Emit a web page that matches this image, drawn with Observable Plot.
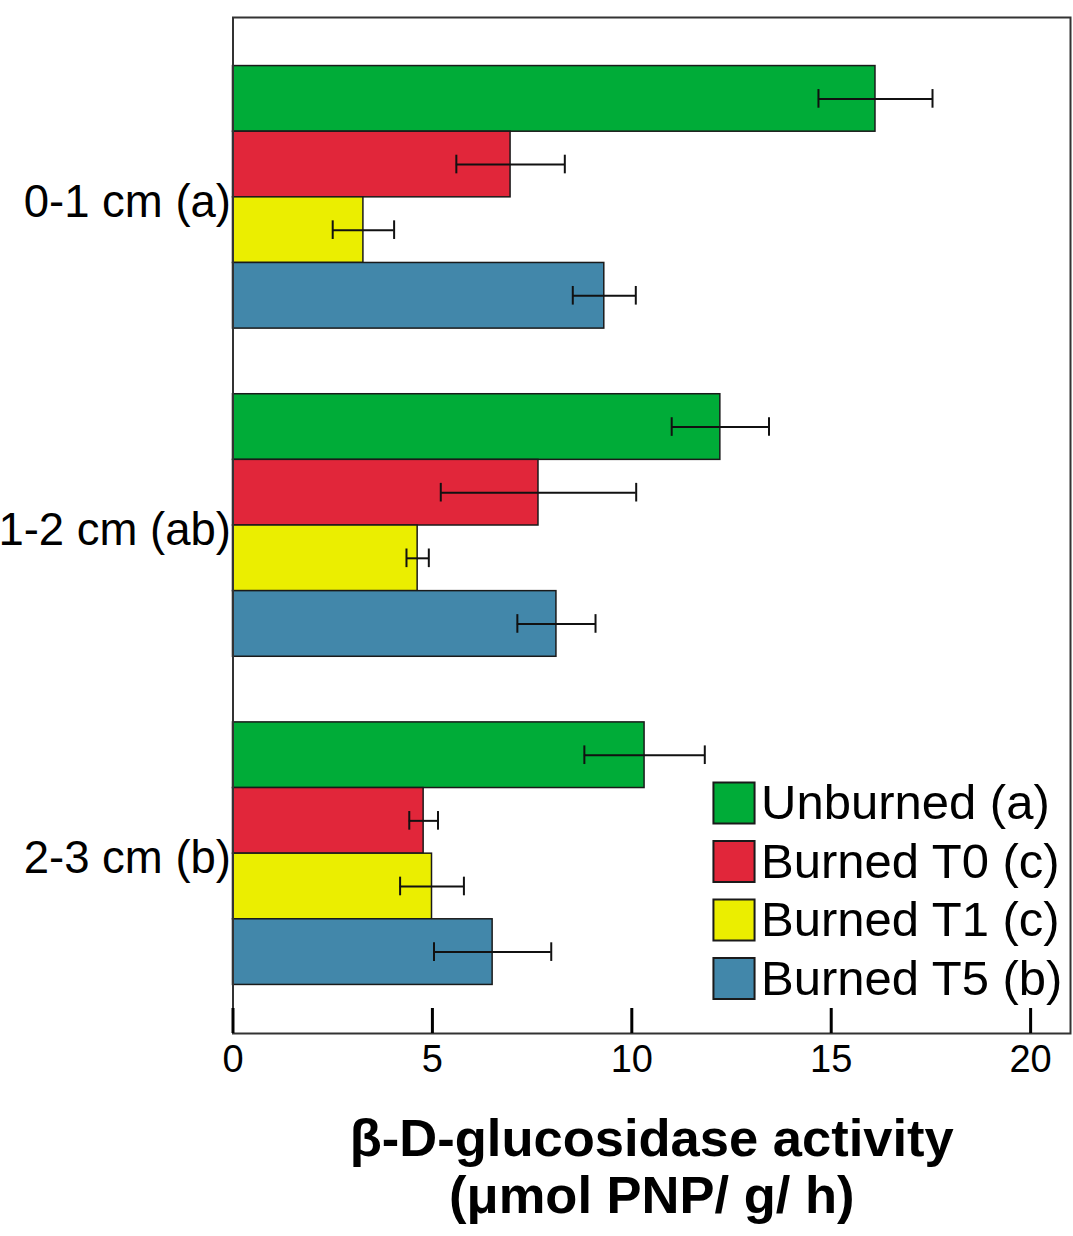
<!DOCTYPE html>
<html>
<head>
<meta charset="utf-8">
<script src="https://cdn.jsdelivr.net/npm/d3@7"></script>
<script src="https://cdn.jsdelivr.net/npm/@observablehq/plot@0.6"></script>
<style>
  html, body { margin: 0; padding: 0; background: #fff; }
</style>
</head>
<body>
<div id="chart"></div>
<script>
// Soil depth layers (with significance letters) and fire treatments
const groups = ["0-1 cm (a)", "1-2 cm (ab)", "2-3 cm (b)"];
const series = ["Unburned", "Burned T0", "Burned T1", "Burned T5"];
const seriesLetters = ["a", "c", "c", "b"];
const colors = ["#00ac38", "#e1263a", "#ebee00", "#4287aa"];

// β-D-glucosidase activity (µmol PNP / g / h), one value per depth layer
const unburned = [16.11, 12.22, 10.32];
const burnedT0 = [6.96, 7.66, 4.78];
const burnedT1 = [3.27, 4.63, 4.99];
const burnedT5 = [9.31, 8.11, 6.51];

// Standard errors, same order
const unburnedErr = [1.43, 1.22, 1.51];
const burnedT0Err = [1.36, 2.45, 0.36];
const burnedT1Err = [0.77, 0.28, 0.80];
const burnedT5Err = [0.79, 0.98, 1.47];

const xTicks = [0, 5, 10, 15, 20];
const xTitle = "β-D-glucosidase activity\n(μmol PNP/ g/ h)";

const means = [unburned, burnedT0, burnedT1, burnedT5];
const errs = [unburnedErr, burnedT0Err, burnedT1Err, burnedT5Err];

const slot = (g, s) => `${g} | ${s}`;
const rows = groups.flatMap((g, gi) =>
  series.map((s, si) => ({
    group: g,
    series: s,
    key: slot(g, s),
    value: means[si][gi],
    lo: means[si][gi] - errs[si][gi],
    hi: means[si][gi] + errs[si][gi]
  }))
);

// One band per bar, with an empty band separating depth layers
const yDomain = groups.flatMap((g, gi) => [
  ...(gi > 0 ? [`spacer ${gi}`] : []),
  ...series.map(s => slot(g, s))
]);

const font = "'Liberation Sans', Arial, Helvetica, sans-serif";
const legendStep = 58.5;

const legendMarks = series.flatMap((s, i) => [
  Plot.dot([s], {
    frameAnchor: "top-left",
    dx: 501,
    dy: 785.5 + i * legendStep,
    symbol: "square",
    r: 23.2,
    fill: d => d,
    stroke: "#1a1a1a",
    strokeWidth: 2
  }),
  Plot.text([s], {
    frameAnchor: "top-left",
    lineAnchor: "middle",
    dx: 528,
    dy: 786 + i * legendStep,
    text: d => `${d} (${seriesLetters[i]})`,
    textAnchor: "start",
    fontSize: 49,
    fill: "#000"
  })
]);

const chart = Plot.plot({
  width: 1073,
  height: 1236,
  marginLeft: 232.5,
  marginRight: 3,
  marginTop: 17,
  marginBottom: 203,
  style: { fontFamily: font, fontSize: "38px", background: "#fff", color: "#000", overflow: "visible" },
  x: { domain: [0, 21], axis: null },
  y: { domain: yDomain, paddingInner: 0, paddingOuter: 0.74, round: false, axis: null },
  color: { domain: series, range: colors },
  marks: [
    Plot.barX(rows, { x: "value", y: "key", fill: "series", stroke: "#1a1a1a", strokeWidth: 1.5 }),
    // error whiskers and caps
    Plot.ruleY(rows, { y: "key", x1: "lo", x2: "hi", stroke: "#111", strokeWidth: 2 }),
    Plot.tickX(rows, { x: "lo", y: "key", stroke: "#111", strokeWidth: 2, insetTop: 23.5, insetBottom: 23.5 }),
    Plot.tickX(rows, { x: "hi", y: "key", stroke: "#111", strokeWidth: 2, insetTop: 23.5, insetBottom: 23.5 }),
    Plot.frame({ stroke: "#333", strokeWidth: 2 }),
    Plot.axisX(xTicks, {
      anchor: "bottom",
      tickSize: -25,
      tickPadding: 37,
      strokeWidth: 3,
      stroke: "#000",
      fontSize: 38,
      label: null
    }),
    // depth-layer labels, centred on each group of four bars
    Plot.text(groups, {
      y: g => slot(g, series[1]),
      text: d => d,
      frameAnchor: "left",
      textAnchor: "end",
      dx: -2,
      dy: 38,
      fontSize: 45.5,
      fill: "#000"
    }),
    ...legendMarks,
    Plot.text([xTitle], {
      frameAnchor: "bottom",
      text: d => d,
      lineAnchor: "top",
      lineHeight: 1.09,
      dy: 82,
      fontSize: 52.5,
      fontWeight: "bold",
      fill: "#000"
    })
  ]
});

document.getElementById("chart").appendChild(chart);
</script>
</body>
</html>
